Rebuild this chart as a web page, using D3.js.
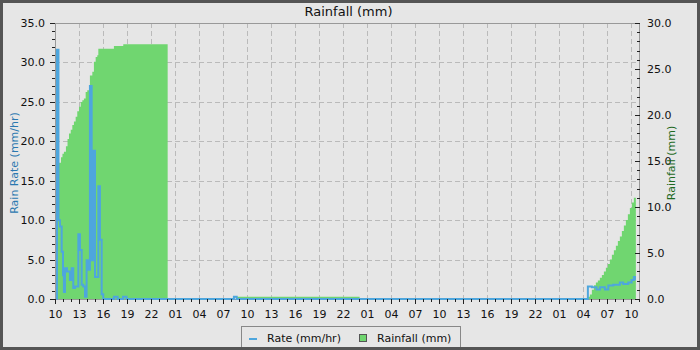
<!DOCTYPE html>
<html>
<head>
<meta charset="utf-8">
<script src="https://cdn.jsdelivr.net/npm/d3@7"></script>
<style>
  body { margin: 0; background: #e6e6e6; }
  svg { display: block; font-family: 'DejaVu Sans', sans-serif; }
</style>
</head>
<body>
<svg id="chart" width="700" height="350"></svg>
<script>
const chartTitle = 'Rainfall (mm)';
const leftLabel = 'Rain Rate (mm/hr)';
const rightLabel = 'Rainfall (mm)';
const legendLabels = ['Rate (mm/hr)', 'Rainfall (mm)'];

const timeStart = '2024-05-10 10:00';
const timeEnd = '2024-05-13 11:08';

const rateTimes = [
  '2024-05-10 10:12', '2024-05-10 10:15', '2024-05-10 10:26', '2024-05-10 10:37',
  '2024-05-10 10:50', '2024-05-10 11:00', '2024-05-10 11:07', '2024-05-10 11:15',
  '2024-05-10 11:30', '2024-05-10 11:52', '2024-05-10 12:05', '2024-05-10 12:17',
  '2024-05-10 12:30', '2024-05-10 12:55', '2024-05-10 13:07', '2024-05-10 13:20',
  '2024-05-10 13:32', '2024-05-10 13:45', '2024-05-10 13:57', '2024-05-10 14:10',
  '2024-05-10 14:22', '2024-05-10 14:35', '2024-05-10 14:47', '2024-05-10 15:00',
  '2024-05-10 15:25', '2024-05-10 15:37', '2024-05-10 15:50', '2024-05-10 16:02',
  '2024-05-10 17:22', '2024-05-10 17:50', '2024-05-10 18:30', '2024-05-10 18:57',
  '2024-05-11 08:22', '2024-05-11 08:43',
  '2024-05-13 04:37', '2024-05-13 05:07', '2024-05-13 05:42', '2024-05-13 06:07',
  '2024-05-13 06:45', '2024-05-13 07:10', '2024-05-13 07:47', '2024-05-13 08:37',
  '2024-05-13 09:02', '2024-05-13 09:40', '2024-05-13 10:05', '2024-05-13 10:22',
  '2024-05-13 10:30', '2024-05-13 10:37',
];
const rateValues = [
  0, 31.6, 10.0, 9.2,
  6.0, 3.0, 0.9, 3.9,
  3.5, 2.4, 3.9, 1.4,
  1.6, 8.2, 6.2, 1.8,
  1.6, 0.3, 4.9, 3.7,
  27.0, 4.9, 18.8, 2.8,
  14.3, 7.5, 0.6, 0,
  0.3, 0, 0.3, 0,
  0.3, 0,
  1.6, 1.5, 1.2, 1.5,
  1.2, 1.7, 1.8, 2.1,
  1.9, 2.1, 2.4, 2.8,
  2.5, 2.5,
];

const rainTimes = [
  '2024-05-10 10:15', '2024-05-10 10:28', '2024-05-10 10:45', '2024-05-10 10:56',
  '2024-05-10 11:07', '2024-05-10 11:22', '2024-05-10 11:34', '2024-05-10 11:45',
  '2024-05-10 11:58', '2024-05-10 12:10', '2024-05-10 12:22', '2024-05-10 12:35',
  '2024-05-10 12:47', '2024-05-10 13:00', '2024-05-10 13:13', '2024-05-10 13:25',
  '2024-05-10 13:37', '2024-05-10 13:50', '2024-05-10 14:02', '2024-05-10 14:15',
  '2024-05-10 14:22', '2024-05-10 14:40', '2024-05-10 14:52', '2024-05-10 15:05',
  '2024-05-10 15:17', '2024-05-10 15:25', '2024-05-10 17:22', '2024-05-10 18:32',
  '2024-05-11 00:05',
  '2024-05-11 08:43', '2024-05-12 00:05',
  '2024-05-13 04:37', '2024-05-13 04:52', '2024-05-13 05:07', '2024-05-13 05:22',
  '2024-05-13 05:37', '2024-05-13 05:52', '2024-05-13 06:07', '2024-05-13 06:22',
  '2024-05-13 06:37', '2024-05-13 06:52', '2024-05-13 07:07', '2024-05-13 07:22',
  '2024-05-13 07:37', '2024-05-13 07:52', '2024-05-13 08:07', '2024-05-13 08:22',
  '2024-05-13 08:37', '2024-05-13 08:52', '2024-05-13 09:07', '2024-05-13 09:22',
  '2024-05-13 09:37', '2024-05-13 09:52', '2024-05-13 10:07', '2024-05-13 10:22',
  '2024-05-13 10:37',
];
const rainValues = [
  13.9, 14.8, 15.4, 15.8,
  16.0, 16.6, 17.4, 18.0,
  18.4, 18.9, 19.3, 19.8,
  20.4, 20.9, 21.4, 21.6,
  21.8, 22.5, 22.7, 23.0,
  24.3, 24.7, 25.8, 26.3,
  26.5, 27.2, 27.5, 27.7,
  0,
  0.25, 0,
  0.25, 0.5, 1.0, 1.5,
  1.8, 2.0, 2.3, 2.6,
  3.0, 3.4, 3.8, 4.3,
  4.8, 5.3, 5.8, 6.3,
  6.8, 7.4, 8.0, 8.6,
  9.2, 9.9, 10.5, 11.0,
  11.1,
];

const rateMax = 35;
const rainMax = 30;

const parseTime = d3.timeParse('%Y-%m-%d %H:%M');
const margin = {top: 23, right: 60, bottom: 51, left: 55};
const width = 700;
const height = 350;
const plotRight = width - margin.right;
const plotBottom = height - margin.bottom;

const rateColor = '#4ea6dd';
const rainColor = '#70d670';
const gridColor = '#bababa';
const frameColor = '#999';
const tickColor = '#222';

const svg = d3.select('#chart');

svg.append('rect')
  .attr('width', width)
  .attr('height', height)
  .attr('fill', '#e6e6e6');

const x = d3.scaleTime()
  .domain([parseTime(timeStart), parseTime(timeEnd)])
  .range([margin.left, plotRight]);
const yRate = d3.scaleLinear().domain([0, rateMax]).range([plotBottom, margin.top]);
const yRain = d3.scaleLinear().domain([0, rainMax]).range([plotBottom, margin.top]);

const majorHours = x.ticks(d3.timeHour.every(1)).filter((d) => d.getHours() % 3 === 1);
const minorHours = x.ticks(d3.timeHour.every(1));
const rateMajor = d3.range(0, rateMax + 0.1, 5);
const rateMinor = d3.range(0, rateMax + 0.1, 1);
const rainMajor = d3.range(0, rainMax + 0.1, 5);
const rainMinor = d3.range(0, rainMax + 0.1, 1);

// grid
const grid = svg.append('g')
  .attr('stroke', gridColor)
  .attr('stroke-dasharray', '5,3')
  .attr('shape-rendering', 'crispEdges');
grid.selectAll('.vgrid')
  .data(majorHours)
  .join('line')
  .attr('class', 'vgrid')
  .attr('x1', (d) => Math.round(x(d)) + 0.5)
  .attr('x2', (d) => Math.round(x(d)) + 0.5)
  .attr('y1', margin.top)
  .attr('y2', plotBottom);
grid.selectAll('.hgrid')
  .data(rateMajor)
  .join('line')
  .attr('class', 'hgrid')
  .attr('x1', margin.left)
  .attr('x2', plotRight)
  .attr('y1', (d) => Math.round(yRate(d)) + 0.5)
  .attr('y2', (d) => Math.round(yRate(d)) + 0.5);

// rainfall area (right axis)
const rainData = rainTimes.map((t, i) => ({t: parseTime(t), v: rainValues[i]}));
svg.append('path')
  .datum(rainData)
  .attr('fill', rainColor)
  .attr('d', d3.area()
    .curve(d3.curveStepAfter)
    .x((d) => x(d.t))
    .y0(yRain(0))
    .y1((d) => yRain(d.v)));

// frame
svg.append('rect')
  .attr('x', margin.left + 0.5)
  .attr('y', margin.top + 0.5)
  .attr('width', plotRight - margin.left - 1)
  .attr('height', plotBottom - margin.top)
  .attr('fill', 'none')
  .attr('stroke', frameColor)
  .attr('shape-rendering', 'crispEdges');

// rain rate line (left axis)
const rateData = rateTimes.map((t, i) => ({t: parseTime(t), v: rateValues[i]}));
svg.append('path')
  .datum(rateData)
  .attr('fill', 'none')
  .attr('stroke', rateColor)
  .attr('stroke-width', 2)
  .attr('d', d3.line()
    .curve(d3.curveStepAfter)
    .x((d) => x(d.t))
    .y((d) => yRate(d.v)));

function styleAxis(g) {
  g.select('.domain').remove();
  g.selectAll('.tick line').attr('stroke', tickColor).attr('shape-rendering', 'crispEdges');
  g.selectAll('.tick text')
    .attr('fill', '#111')
    .attr('font-size', '11px')
    .attr('font-family', "'DejaVu Sans', sans-serif");
}

// x axis
svg.append('g')
  .attr('transform', `translate(0,${plotBottom})`)
  .call(d3.axisBottom(x).tickValues(minorHours).tickSize(3).tickFormat(''))
  .call(styleAxis);
svg.append('g')
  .attr('transform', `translate(0,${plotBottom})`)
  .call(d3.axisBottom(x).tickValues(majorHours).tickSize(5).tickPadding(6)
    .tickFormat(d3.timeFormat('%H')))
  .call(styleAxis);

// left axis
svg.append('g')
  .attr('transform', `translate(${margin.left},0)`)
  .call(d3.axisLeft(yRate).tickValues(rateMinor).tickSize(3).tickFormat(''))
  .call(styleAxis);
svg.append('g')
  .attr('transform', `translate(${margin.left},0)`)
  .call(d3.axisLeft(yRate).tickValues(rateMajor).tickSize(5).tickPadding(5)
    .tickFormat(d3.format('.1f')))
  .call(styleAxis);

// right axis, ticks point inward
svg.append('g')
  .attr('transform', `translate(${plotRight},0)`)
  .call(d3.axisRight(yRain).tickValues(rainMinor).tickSize(-3).tickFormat(''))
  .call(styleAxis);
svg.append('g')
  .attr('transform', `translate(${plotRight},0)`)
  .call(d3.axisRight(yRain).tickValues(rainMajor).tickSize(-5).tickPadding(7)
    .tickFormat(d3.format('.1f')))
  .call(styleAxis);

// titles
svg.append('text')
  .attr('x', (margin.left + plotRight) / 2 + 1)
  .attr('y', 16)
  .attr('text-anchor', 'middle')
  .attr('font-size', '13px')
  .attr('fill', '#111')
  .text(chartTitle);

svg.append('text')
  .attr('transform', `translate(18,${(margin.top + plotBottom) / 2 + 2}) rotate(-90)`)
  .attr('text-anchor', 'middle')
  .attr('font-size', '11px')
  .attr('fill', '#2a78b0')
  .text(leftLabel);

svg.append('text')
  .attr('transform', `translate(675,${(margin.top + plotBottom) / 2 + 2}) rotate(-90)`)
  .attr('text-anchor', 'middle')
  .attr('font-size', '11px')
  .attr('fill', '#1e6a1e')
  .text(rightLabel);

// legend
const legend = svg.append('g').attr('transform', 'translate(241,326)');
legend.append('rect')
  .attr('x', 0.5)
  .attr('y', 0.5)
  .attr('width', 219)
  .attr('height', 23)
  .attr('fill', 'none')
  .attr('stroke', '#888');
legend.append('line')
  .attr('x1', 8)
  .attr('x2', 16)
  .attr('y1', 13)
  .attr('y2', 13)
  .attr('stroke', rateColor)
  .attr('stroke-width', 2);
legend.append('text')
  .attr('x', 26)
  .attr('y', 16)
  .attr('font-size', '11px')
  .attr('fill', '#111')
  .text(legendLabels[0]);
legend.append('rect')
  .attr('x', 118.5)
  .attr('y', 8.5)
  .attr('width', 7)
  .attr('height', 7)
  .attr('fill', rainColor)
  .attr('stroke', '#555');
legend.append('text')
  .attr('x', 136)
  .attr('y', 16)
  .attr('font-size', '11px')
  .attr('fill', '#111')
  .text(legendLabels[1]);

// outer border
svg.append('rect')
  .attr('x', 1.5)
  .attr('y', 1.5)
  .attr('width', width - 3)
  .attr('height', height - 3)
  .attr('fill', 'none')
  .attr('stroke', '#555')
  .attr('stroke-width', 3);
</script>
</body>
</html>
